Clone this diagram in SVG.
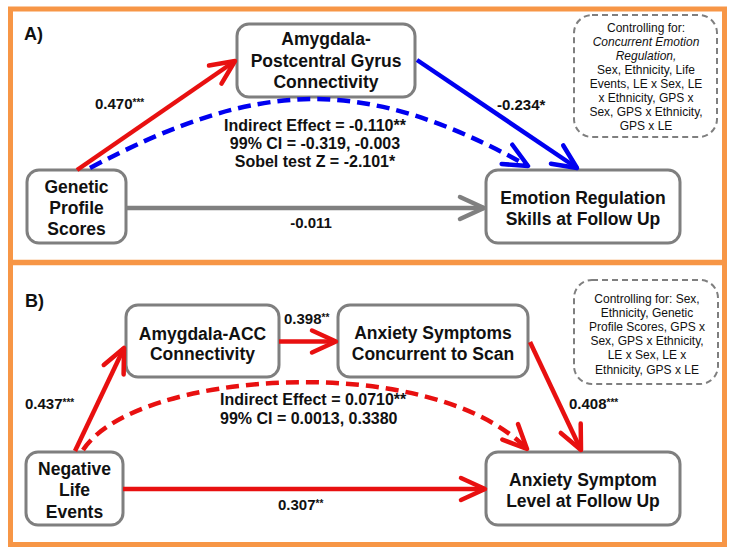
<svg xmlns="http://www.w3.org/2000/svg" width="734" height="554" viewBox="0 0 734 554">
<style>
.nb{fill:#fff;stroke:#7f7f7f;stroke-width:3}
.cb{fill:#fff;stroke:#7f7f7f;stroke-width:2;stroke-dasharray:6 4}
.nt{font-family:"Liberation Sans",Arial,sans-serif;font-weight:bold;font-size:17.5px;fill:#111;text-anchor:middle}
.lb{font-family:"Liberation Sans",Arial,sans-serif;font-weight:bold;font-size:15px;fill:#111}
.ie{font-family:"Liberation Sans",Arial,sans-serif;font-weight:bold;font-size:16px;fill:#111}
.ct{font-family:"Liberation Sans",Arial,sans-serif;font-size:12px;fill:#111;text-anchor:middle}
.sm{font-size:10px}
.r{stroke:#e81010;fill:none;stroke-width:4.5}
.b{stroke:#0000f0;fill:none;stroke-width:4.5}
.g{stroke:#808080;fill:none;stroke-width:4.5}
.d{stroke-dasharray:13 7}
</style>
<defs>
<marker id="arR" viewBox="-30 -15 34 30" refX="0" refY="0" markerWidth="34" markerHeight="30" markerUnits="userSpaceOnUse" orient="auto" overflow="visible"><path d="M-24,-11 L0,0 L-24,11" fill="none" stroke="#e81010" stroke-width="4.5" stroke-linecap="round" stroke-linejoin="round"/></marker>
<marker id="arB" viewBox="-30 -15 34 30" refX="0" refY="0" markerWidth="34" markerHeight="30" markerUnits="userSpaceOnUse" orient="auto" overflow="visible"><path d="M-24,-11 L0,0 L-24,11" fill="none" stroke="#0000f0" stroke-width="4.5" stroke-linecap="round" stroke-linejoin="round"/></marker>
<marker id="arG" viewBox="-30 -15 34 30" refX="0" refY="0" markerWidth="34" markerHeight="30" markerUnits="userSpaceOnUse" orient="auto" overflow="visible"><path d="M-24,-11 L0,0 L-24,11" fill="none" stroke="#808080" stroke-width="4.5" stroke-linecap="round" stroke-linejoin="round"/></marker>
</defs>
<rect width="734" height="554" fill="#fff"/>
<g id="frame">
<rect x="10.5" y="9" width="714" height="535.5" fill="#fff" stroke="#F79646" stroke-width="5"/>
<line x1="10.5" y1="262.5" x2="724.5" y2="262.5" stroke="#F79646" stroke-width="5.5"/>
<text x="24" y="40" font-family="Liberation Sans,Arial,sans-serif" font-weight="bold" font-size="18" fill="#111">A)</text>
<text x="25" y="307" font-family="Liberation Sans,Arial,sans-serif" font-weight="bold" font-size="18" fill="#111">B)</text>
</g>
<g id="n-amyg-pcg"><rect class="nb" x="237" y="24" width="178" height="73" rx="12"/>
<text class="nt" x="326" y="45">Amygdala-</text><text class="nt" x="326" y="66.5">Postcentral Gyrus</text><text class="nt" x="326" y="88">Connectivity</text></g>
<g id="n-gps"><rect class="nb" x="27" y="170" width="99" height="73" rx="12"/>
<text class="nt" x="76.5" y="192.5">Genetic</text><text class="nt" x="76.5" y="213.5">Profile</text><text class="nt" x="76.5" y="234.5">Scores</text></g>
<g id="n-emo"><rect class="nb" x="486" y="170" width="194" height="73" rx="12"/>
<text class="nt" x="583" y="204">Emotion Regulation</text><text class="nt" x="583" y="225">Skills at Follow Up</text></g>
<g id="n-ctrlA"><rect class="cb" x="574" y="15" width="143" height="122" rx="18"/>
<text class="ct" x="646" y="31.7">Controlling for:</text>
<text class="ct" x="646" y="45.8" font-style="italic">Concurrent Emotion</text>
<text class="ct" x="646" y="59.9" font-style="italic">Regulation,</text>
<text class="ct" x="646" y="74">Sex, Ethnicity, Life</text>
<text class="ct" x="646" y="88.1">Events, LE x Sex, LE</text>
<text class="ct" x="646" y="102.2">x Ethnicity, GPS x</text>
<text class="ct" x="646" y="116.3">Sex, GPS x Ethnicity,</text>
<text class="ct" x="646" y="130.4">GPS x LE</text></g>
<g id="n-amyg-acc"><rect class="nb" x="126" y="305" width="153" height="72" rx="12"/>
<text class="nt" x="202.5" y="339.5">Amygdala-ACC</text><text class="nt" x="202.5" y="359.5">Connectivity</text></g>
<g id="n-anx-conc"><rect class="nb" x="338" y="305" width="190" height="72" rx="12"/>
<text class="nt" x="433" y="339">Anxiety Symptoms</text><text class="nt" x="433" y="359.5">Concurrent to Scan</text></g>
<g id="n-nle"><rect class="nb" x="26" y="452" width="97" height="73" rx="12"/>
<text class="nt" x="74.5" y="474.5">Negative</text><text class="nt" x="74.5" y="495.5">Life</text><text class="nt" x="74.5" y="517.5">Events</text></g>
<g id="n-anx-fu"><rect class="nb" x="486" y="452" width="194" height="73" rx="12"/>
<text class="nt" x="583" y="485.5">Anxiety Symptom</text><text class="nt" x="583" y="507">Level at Follow Up</text></g>
<g id="n-ctrlB"><rect class="cb" x="574" y="280" width="144" height="104" rx="18"/>
<text class="ct" x="647" y="303">Controlling for: Sex,</text>
<text class="ct" x="647" y="317.1">Ethnicity, Genetic</text>
<text class="ct" x="647" y="331.2">Profile Scores, GPS x</text>
<text class="ct" x="647" y="345.3">Sex, GPS x Ethnicity,</text>
<text class="ct" x="647" y="359.4">LE x Sex, LE x</text>
<text class="ct" x="647" y="373.5">Ethnicity, GPS x LE</text></g>
<g id="connectors">
<path class="r" d="M77,170 L235,61" marker-end="url(#arR)"/>
<path class="b" d="M417,60 L577,168" marker-end="url(#arB)"/>
<path class="g" d="M126,208 L484,208" marker-end="url(#arG)"/>
<path class="b d" d="M90,168 C258,79 362,74 528,166" marker-end="url(#arB)"/>
<path class="r" d="M75,451 L124,348" marker-end="url(#arR)"/>
<path class="r" d="M279,341.5 L336,341.5" marker-end="url(#arR)"/>
<path class="r" d="M530,342 L581,450" marker-end="url(#arR)"/>
<path class="r" d="M123,489 L485,489" marker-end="url(#arR)"/>
<path class="r d" d="M83,450 C135,370 430,350 527,449" marker-end="url(#arR)"/>
</g>
<g id="labels">
<text class="lb" x="95" y="109">0.470<tspan class="sm" dy="-3">***</tspan></text>
<text class="lb" x="497" y="109.5">-0.234*</text>
<text class="lb" x="311" y="228" text-anchor="middle">-0.011</text>
<text class="ie" x="315" y="130.5" text-anchor="middle">Indirect Effect = -0.110**</text>
<text class="ie" x="315" y="148.5" text-anchor="middle">99% CI = -0.319, -0.003</text>
<text class="ie" x="315" y="167" text-anchor="middle">Sobel test Z = -2.101*</text>
<text class="lb" x="25" y="409">0.437<tspan class="sm" dy="-3">***</tspan></text>
<text class="lb" x="284" y="323.5">0.398<tspan class="sm" dy="-3">**</tspan></text>
<text class="lb" x="569" y="409">0.408<tspan class="sm" dy="-3">***</tspan></text>
<text class="lb" x="278" y="510">0.307<tspan class="sm" dy="-3">**</tspan></text>
<text class="ie" x="220" y="405">Indirect Effect = 0.0710**</text>
<text class="ie" x="220" y="423.5">99% CI = 0.0013, 0.3380</text>
</g>
</svg>
